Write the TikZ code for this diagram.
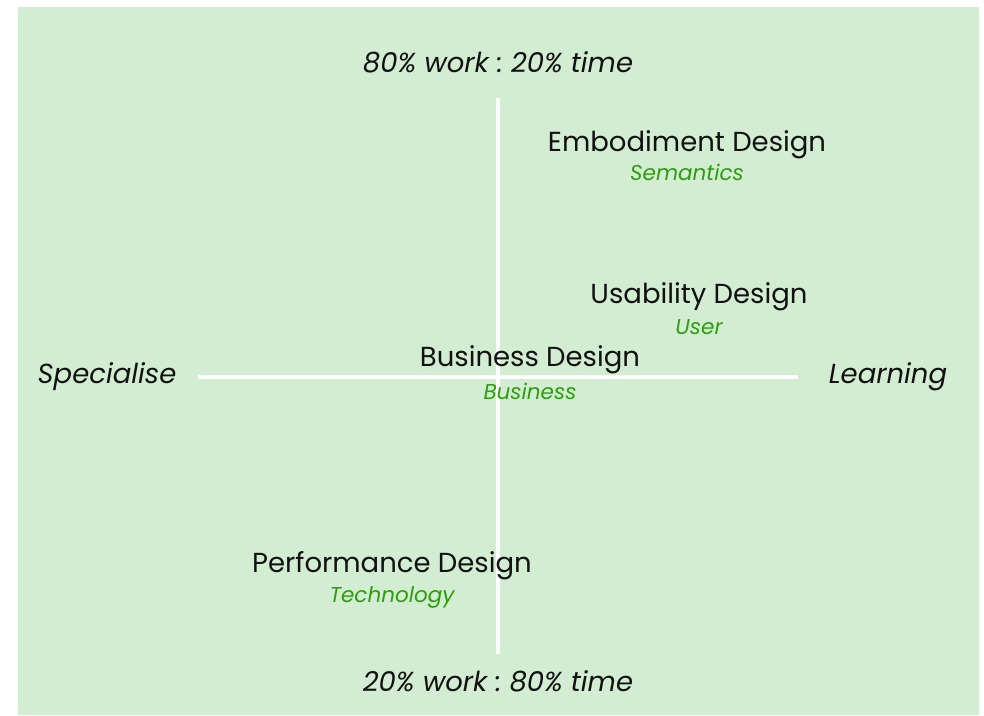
\documentclass[tikz,border=0pt]{standalone}
\usepackage{fontspec}
\setmainfont{Poppins}
\definecolor{bggreen}{HTML}{D2EDD2}
\definecolor{subgreen}{HTML}{2E9E0E}
\definecolor{ink}{HTML}{111111}
\begin{document}
\frenchspacing
\begin{tikzpicture}[x=1pt,y=-1pt,
  title/.style={font=\fontsize{27.5}{32}\selectfont, text=ink, inner sep=0pt, anchor=center},
  sub/.style={font=\fontsize{21.5}{25}\selectfont\itshape, text=subgreen, inner sep=0pt, anchor=center},
  axislabel/.style={font=\fontsize{27.5}{32}\selectfont\itshape, text=ink, inner sep=0pt, anchor=center},
  axis/.style={draw=white, line width=4pt}]
\useasboundingbox (0,0) rectangle (984,715);
\fill[bggreen] (18,7) rectangle (979,715);
\coordinate (top) at (498,98);
\coordinate (bot) at (498,654);
\coordinate (left) at (198,377);
\coordinate (right) at (798,377);
\draw[axis] (top) -- (bot);
\draw[axis] (left) -- (right);
\node[axislabel] (tl) at (498,62) {80\% work : 20\% time};
\node[axislabel] (bl) at (498,681) {20\% work : 80\% time};
\node[axislabel] (sp) at (107,377) {Specialise};
\node[axislabel] (le) at (888,377) {Learning};
\node[title] (emb) at (687,145) {Embodiment Design};
\node[sub] (sem) at (687,172) {Semantics};
\node[title] (usa) at (699,297) {Usability Design};
\node[sub] (usr) at (699,327) {User};
\node[title] (bus) at (530,360) {Business Design};
\node[sub] (bsub) at (530,391) {Business};
\node[title] (perf) at (392,566) {Performance Design};
\node[sub] (tech) at (392,597) {Technology};
\end{tikzpicture}
\end{document}
